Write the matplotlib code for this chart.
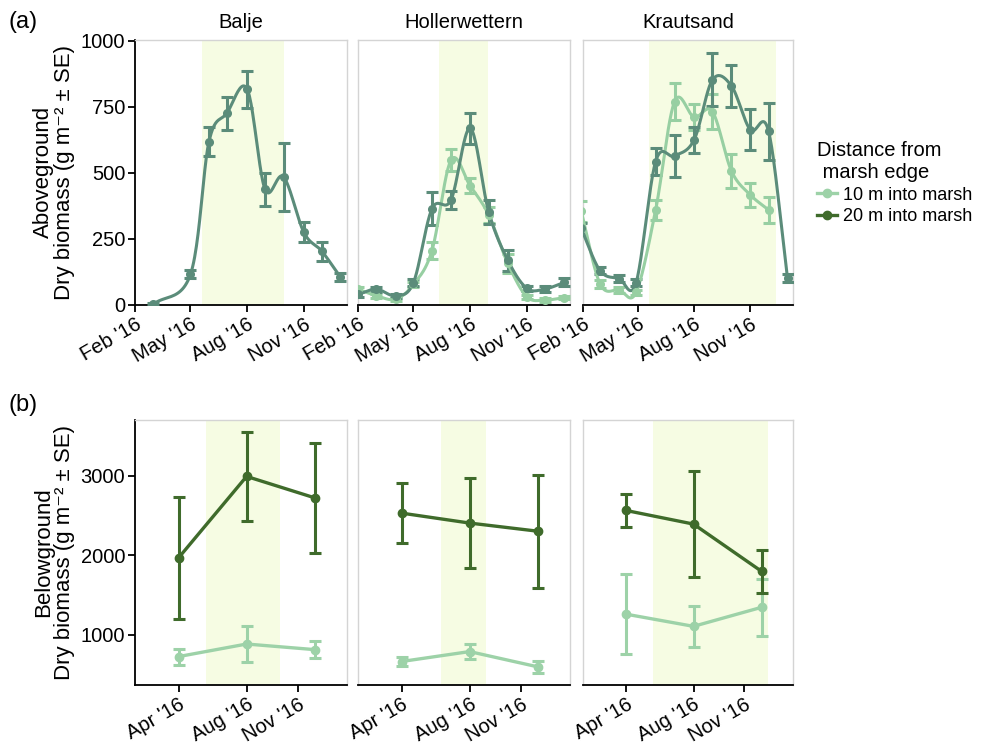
import numpy as np
import pandas as pd
import matplotlib
matplotlib.use("Agg")
import matplotlib.pyplot as plt
import matplotlib.dates as mdates
from matplotlib.lines import Line2D

plt.rcParams['font.family'] = ['Liberation Sans', 'DejaVu Sans']

sites = ['Balje', 'Hollerwettern', 'Krautsand']

# aboveground biomass, monthly harvests
balje_dates = ['2016-03-01', '2016-05-01', '2016-05-31', '2016-06-29', '2016-08-01',
               '2016-08-30', '2016-09-29', '2016-11-01', '2016-11-30', '2016-12-30']
balje_20 = [2, 116, 618, 726, 817, 438, 485, 275, 204, 107]
balje_20_se = [5, 15, 55, 63, 70, 62, 130, 38, 36, 15]

holler_dates = ['2016-02-01', '2016-03-02', '2016-04-02', '2016-05-01', '2016-05-31', '2016-07-01',
                '2016-08-01', '2016-08-31', '2016-10-01', '2016-11-01', '2016-12-01', '2017-01-01']
holler_10 = [60, 35, 22, 78, 206, 549, 451, 341, 158, 31, 19, 28]
holler_10_se = [8, 8, 6, 10, 32, 40, 28, 30, 35, 8, 6, 6]
holler_20 = [40, 60, 35, 85, 364, 398, 669, 353, 170, 63, 61, 86]
holler_20_se = [8, 10, 8, 12, 63, 35, 58, 45, 40, 10, 10, 15]

kraut_dates = ['2016-01-29', '2016-02-29', '2016-03-31', '2016-04-28', '2016-05-30', '2016-06-30',
               '2016-08-01', '2016-08-31', '2016-10-01', '2016-11-01', '2016-12-01', '2017-01-01']
kraut_10 = [355, 80, 57, 48, 360, 770, 711, 732, 508, 417, 360, np.nan]
kraut_10_se = [40, 15, 12, 10, 38, 70, 50, 65, 65, 45, 50, np.nan]
kraut_20 = [290, 130, 100, 85, 543, 564, 625, 852, 830, 663, 657, 101]
kraut_20_se = [20, 12, 12, 12, 52, 78, 50, 100, 80, 77, 108, 15]

# growing season window per site
season_start = ['2016-05-20', '2016-06-11', '2016-05-19']
season_end = ['2016-09-30', '2016-08-30', '2016-12-13']

# belowground biomass, three cores per year
below_dates = ['2016-04-01', '2016-08-01', '2016-12-02']
below_10 = [[727, 885, 814], [665, 790, 597], [1260, 1107, 1346]]
below_10_se = [[100, 230, 110], [60, 95, 70], [505, 260, 360]]
below_20 = [[1967, 2991, 2720], [2530, 2405, 2302], [2563, 2392, 1799]]
below_20_se = [[770, 560, 690], [375, 560, 710], [210, 665, 270]]

top_light = '#97cfa2'
top_dark = '#5b8c7a'
bot_light = '#9dd2a8'
bot_dark = '#3f6b2b'
shade = '#f6fce3'
frame = '#d4d4d4'


def dnum(dates):
    return mdates.date2num(pd.to_datetime(dates))


def spline(x, y, n=24):
    # Catmull-Rom curve through the points
    x = np.asarray(x, float)
    y = np.asarray(y, float)
    ok = ~np.isnan(y)
    x, y = x[ok], y[ok]
    px = np.concatenate([[2 * x[0] - x[1]], x, [2 * x[-1] - x[-2]]])
    py = np.concatenate([[2 * y[0] - y[1]], y, [2 * y[-1] - y[-2]]])
    t = np.linspace(0, 1, n, endpoint=False)
    xs, ys = [], []
    for i in range(1, len(px) - 2):
        for p, out in ((px, xs), (py, ys)):
            p0, p1, p2, p3 = p[i - 1], p[i], p[i + 1], p[i + 2]
            out.append(0.5 * (2 * p1 + (-p0 + p2) * t + (2 * p0 - 5 * p1 + 4 * p2 - p3) * t ** 2
                              + (-p0 + 3 * p1 - 3 * p2 + p3) * t ** 3))
    xs.append([x[-1]])
    ys.append([y[-1]])
    return np.concatenate(xs), np.concatenate(ys)


def style(ax, first):
    for s in ax.spines.values():
        s.set_color(frame)
        s.set_linewidth(1.0)
    ax.spines['bottom'].set_color('black')
    ax.spines['bottom'].set_linewidth(1.3)
    ax.tick_params(axis='x', length=5, width=1.3, labelsize=14.5, pad=2)
    if first:
        ax.spines['left'].set_color('black')
        ax.spines['left'].set_linewidth(1.3)
        ax.tick_params(axis='y', length=5, width=1.3, labelsize=14.5, pad=2)
    else:
        ax.tick_params(axis='y', length=0, labelleft=False)
    for lab in ax.get_xticklabels():
        lab.set_rotation(30)
        lab.set_ha('right')
        lab.set_rotation_mode('anchor')


fig = plt.figure(figsize=(9.85, 7.44), dpi=100)
W, H = 985, 744
xs_px = [(135, 347), (358, 570), (583, 793)]

top_series = [
    (balje_dates, None, None, balje_20, balje_20_se),
    (holler_dates, holler_10, holler_10_se, holler_20, holler_20_se),
    (kraut_dates, kraut_10, kraut_10_se, kraut_20, kraut_20_se),
]

eb = dict(fmt='none', capsize=4.5, elinewidth=2.2, capthick=2.2, zorder=3)

for i, (x0, x1) in enumerate(xs_px):
    # aboveground row
    ax = fig.add_axes([x0 / W, 1 - 305 / H, (x1 - x0) / W, 265 / H])
    ax.axvspan(dnum([season_start[i]])[0], dnum([season_end[i]])[0], color=shade, lw=0, zorder=0)
    dates, v10, s10, v20, s20 = top_series[i]
    xd = dnum(dates)
    for vals, se, col in ((v10, s10, top_light), (v20, s20, top_dark)):
        if vals is None:
            continue
        sx, sy = spline(xd, vals)
        ax.plot(sx, sy, color=col, lw=2.2, zorder=4)
        ax.errorbar(xd, vals, yerr=se, ecolor=col, **eb)
        ax.plot(xd, vals, 'o', color=col, ms=5.5, zorder=5)
    ax.set_xlim(dnum(['2016-02-01'])[0], dnum(['2017-01-10'])[0])
    ax.set_ylim(0, 1003)
    ax.set_yticks([0, 250, 500, 750, 1000])
    ax.xaxis.set_major_locator(mdates.MonthLocator(bymonth=[2, 5, 8, 11]))
    ax.xaxis.set_major_formatter(mdates.DateFormatter("%b '%y"))
    ax.set_title(sites[i], fontsize=14.5, pad=9)
    style(ax, i == 0)

    # belowground row
    bx = fig.add_axes([x0 / W, 1 - 685 / H, (x1 - x0) / W, 265 / H])
    bx.axvspan(dnum([season_start[i]])[0], dnum([season_end[i]])[0], color=shade, lw=0, zorder=0)
    bd = dnum(below_dates)
    for vals, se, col in ((below_10[i], below_10_se[i], bot_light), (below_20[i], below_20_se[i], bot_dark)):
        bx.plot(bd, vals, color=col, lw=2.4, zorder=4)
        bx.errorbar(bd, vals, yerr=se, ecolor=col, **eb)
        bx.plot(bd, vals, 'o', color=col, ms=6, zorder=5)
    bx.set_xlim(dnum(['2016-01-14'])[0], dnum(['2017-01-28'])[0])
    bx.set_ylim(370, 3700)
    bx.set_yticks([1000, 2000, 3000])
    bx.set_xticks(dnum(['2016-04-01', '2016-08-01', '2016-11-01']))
    bx.xaxis.set_major_formatter(mdates.DateFormatter("%b '%y"))
    style(bx, i == 0)

fig.text(8 / W, 1 - 22 / H, '(a)', fontsize=17, va='center')
fig.text(8 / W, 1 - 405 / H, '(b)', fontsize=17, va='center')
fig.text(54 / W, 1 - 172 / H, 'Aboveground\nDry biomass (g m⁻² ± SE)', rotation=90,
         fontsize=16, ha='center', va='center', linespacing=1.0)
fig.text(54 / W, 1 - 552 / H, 'Belowground\nDry biomass (g m⁻² ± SE)', rotation=90,
         fontsize=16, ha='center', va='center', linespacing=1.0)

handles = [Line2D([], [], color=bot_light, lw=2.4, marker='o', ms=6),
           Line2D([], [], color=bot_dark, lw=2.4, marker='o', ms=6)]
leg = fig.legend(handles, ['10 m into marsh', '20 m into marsh'], title='Distance from\n marsh edge',
                 loc='upper left', bbox_to_anchor=(810 / W, 1 - 134 / H), frameon=False,
                 fontsize=13, title_fontsize=14.5, handlelength=1.1, handletextpad=0.35,
                 labelspacing=0.25, borderaxespad=0)
leg._legend_box.align = 'left'

fig.savefig('out.png', dpi=100)
